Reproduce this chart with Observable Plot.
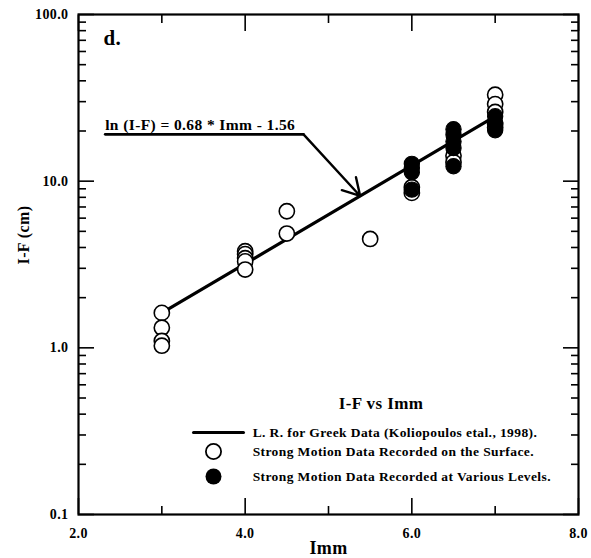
<!DOCTYPE html>
<html><head><meta charset="utf-8">
<script src="https://cdn.jsdelivr.net/npm/d3@7"></script>
<script src="https://cdn.jsdelivr.net/npm/@observablehq/plot@0.6"></script>
<style>
body{margin:0;background:#fff;}
#chart svg{display:block;}
</style></head><body><div id="chart"></div>
<script>
// ---- data ----
const surfaceImm = [3, 3, 3, 3, 4, 4, 4, 4, 4, 4.5, 4.5, 5.5, 6, 6, 6.5, 6.5, 7, 7, 7, 7, 7];
const surfaceIF  = [1.62, 1.32, 1.1, 1.03, 3.8, 3.65, 3.45, 3.3, 2.95, 6.6, 4.85, 4.5, 9.2, 8.5, 14.2, 13.0, 33, 29, 26, 22, 21];
const levelsImm  = [6, 6, 6, 6, 6.5, 6.5, 6.5, 6.5, 6.5, 7, 7, 7];
const levelsIF   = [12.7, 12.0, 11.3, 8.9, 20.5, 19, 17.3, 15.8, 12.3, 24.5, 22.5, 20.2];
const fitImm = [3, 7];
const fitIF  = [1.62, 24.5];

const xMajorTicks = [2, 4, 6, 8];
const xMinorTicks = [3, 5, 7];
const yMajorTicks = [0.1, 1, 10, 100];
const yMinorTicks = [0.2,0.3,0.4,0.5,0.6,0.7,0.8,0.9, 2,3,4,5,6,7,8,9, 20,30,40,50,60,70,80,90];

const panelLabel = "d.";
const xTitle = "Imm";
const yTitle = "I-F (cm)";
const equationText = "ln (I-F) = 0.68 * Imm - 1.56";
const legendTitle = "I-F vs Imm";
const legendLabels = [
  "L. R. for Greek Data (Koliopoulos etal., 1998).",
  "Strong Motion Data Recorded on the Surface.",
  "Strong Motion Data Recorded at Various Levels."
];

// ---- tables ----
const surface = surfaceImm.map((x, i) => ({x, y: surfaceIF[i]}));
const levels = levelsImm.map((x, i) => ({x, y: levelsIF[i]}));
const fit = fitImm.map((x, i) => ({x, y: fitIF[i]}));

// annotation anchors (in data space)
const eqX0 = 2.32, eqX1 = 4.70, eqY = 19.1;
const arrowEnd = {x: 5.38, y: 8.15};
const legX = 3.38, legX1 = 3.98, legMid = 3.62, legTextX = 4.09;
const legRows = [0.31, 0.239, 0.169];

const font = "'Liberation Serif', 'Times New Roman', serif";
const sw = 1.6;

const chart = Plot.plot({
  width: 591,
  height: 558,
  marginLeft: 78,
  marginRight: 13,
  marginTop: 14,
  marginBottom: 44,
  style: {fontFamily: font, fontWeight: "bold", fontSize: "14px", background: "#fff", color: "#000", letterSpacing: "0.4px"},
  x: {domain: [2, 8], label: null},
  y: {type: "log", domain: [0.1, 100], label: null},
  marks: [
    // ticks (inward) on all four sides
    Plot.axisY({anchor: "left", ticks: yMajorTicks, tickSize: -16, tickFormat: () => "", label: null, strokeWidth: sw}),
    Plot.axisY({anchor: "left", ticks: yMinorTicks, tickSize: -8, tickFormat: () => "", label: null, strokeWidth: sw}),
    Plot.axisY({anchor: "right", ticks: yMajorTicks, tickSize: -16, tickFormat: () => "", label: null, strokeWidth: sw}),
    Plot.axisY({anchor: "right", ticks: yMinorTicks, tickSize: -8, tickFormat: () => "", label: null, strokeWidth: sw}),
    Plot.axisX({anchor: "bottom", ticks: xMajorTicks, tickSize: -16, tickFormat: () => "", label: null, strokeWidth: sw}),
    Plot.axisX({anchor: "bottom", ticks: xMinorTicks, tickSize: -8, tickFormat: () => "", label: null, strokeWidth: sw}),
    Plot.axisX({anchor: "top", ticks: xMajorTicks, tickSize: -16, tickFormat: () => "", label: null, strokeWidth: sw}),
    Plot.axisX({anchor: "top", ticks: xMinorTicks, tickSize: -8, tickFormat: () => "", label: null, strokeWidth: sw}),
    // tick labels
    Plot.axisY({anchor: "left", ticks: yMajorTicks, tickSize: 0, tickPadding: 10, tickFormat: d => d.toFixed(1), label: null, fontSize: 14}),
    Plot.axisX({anchor: "bottom", ticks: xMajorTicks, tickSize: 0, tickPadding: 14, tickFormat: d => d.toFixed(1), label: null, fontSize: 14}),
    Plot.frame({stroke: "#000", strokeWidth: 2.2}),
    // axis titles
    Plot.text([yTitle], {frameAnchor: "left", rotate: -90, dx: -55, fontSize: 16, fontWeight: "bold"}),
    Plot.text([xTitle], {frameAnchor: "bottom", dy: 39, fontSize: 18, fontWeight: "bold"}),
    // panel label
    Plot.text([panelLabel], {x: () => 2.30, y: () => 71.8, textAnchor: "start", fontSize: 21, fontWeight: "bold"}),
    // regression line
    Plot.line(fit, {x: "x", y: "y", stroke: "#000", strokeWidth: 3.2}),
    // data points
    Plot.dot(surface, {x: "x", y: "y", r: 7.6, stroke: "#000", strokeWidth: 1.6, fill: "#fff"}),
    Plot.dot(levels, {x: "x", y: "y", r: 7.6, stroke: "#000", strokeWidth: 1.2, fill: "#000"}),
    // equation annotation
    Plot.text([equationText], {x: () => eqX0, y: () => eqY, textAnchor: "start", lineAnchor: "bottom", dy: -4, fontSize: 15.5, fontWeight: "bold"}),
    Plot.line([{x: eqX0, y: eqY}, {x: eqX1, y: eqY}], {x: "x", y: "y", stroke: "#000", strokeWidth: 2.6}),
    Plot.arrow([{x1: eqX1, y1: eqY, x2: arrowEnd.x, y2: arrowEnd.y}], {x1: "x1", y1: "y1", x2: "x2", y2: "y2", stroke: "#000", strokeWidth: 2.4, headLength: 12}),
    // legend
    Plot.text([legendTitle], {x: () => 5.63, y: () => 0.46, fontSize: 17, fontWeight: "bold"}),
    Plot.line([{x: legX, y: legRows[0]}, {x: legX1, y: legRows[0]}], {x: "x", y: "y", stroke: "#000", strokeWidth: 3}),
    Plot.dot([{x: legMid, y: legRows[1]}], {x: "x", y: "y", r: 7.6, stroke: "#000", strokeWidth: 1.8, fill: "#fff"}),
    Plot.dot([{x: legMid, y: legRows[2]}], {x: "x", y: "y", r: 8, fill: "#000"}),
    Plot.text(legendLabels.map((t, i) => ({t, y: legRows[i]})), {x: () => legTextX, y: "y", text: "t", textAnchor: "start", fontSize: 13.5, fontWeight: "bold"})
  ]
});
document.getElementById("chart").appendChild(chart);
</script>
</body></html>
